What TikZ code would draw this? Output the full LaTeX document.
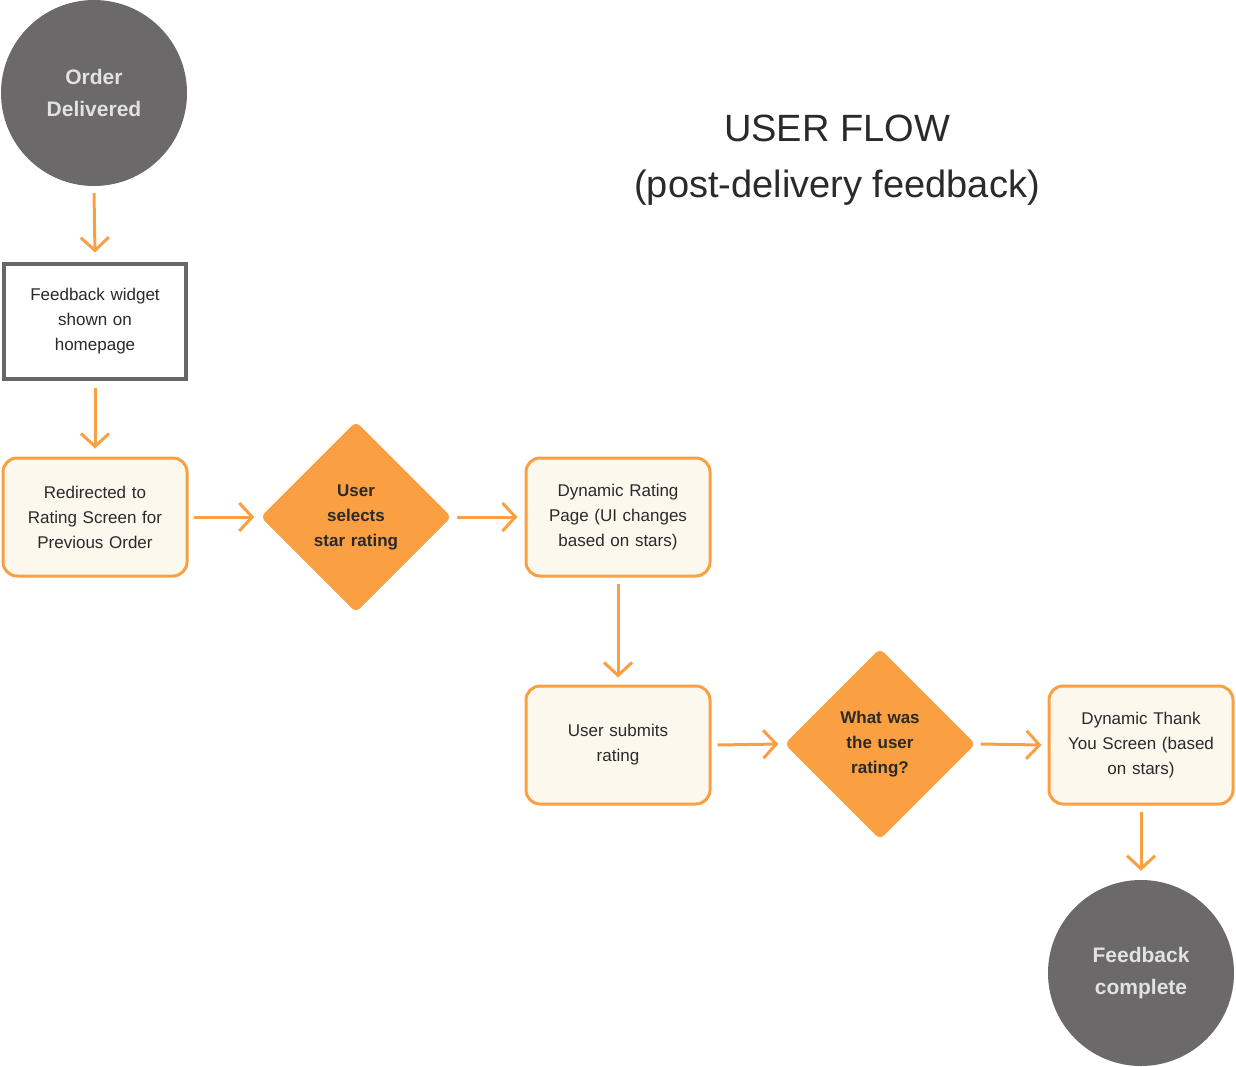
\documentclass[tikz,border=0pt]{standalone}
\usepackage{fontspec}
\setmainfont{Liberation Sans}
\usetikzlibrary{shapes.geometric,arrows.meta}
\definecolor{org}{HTML}{FA9F42}
\definecolor{cgray}{HTML}{6B6969}
\definecolor{ctext}{HTML}{E2E2E2}
\definecolor{boxfill}{HTML}{FDF8EE}
\definecolor{bgray}{HTML}{666666}
\definecolor{dtext}{HTML}{2A2A2A}
\tikzset{
  x=1pt,y=-1pt,
  endcircle/.style={circle,fill=cgray,minimum size=186pt,inner sep=0pt,text=ctext,align=center,font=\fontsize{21}{32}\selectfont\bfseries},
  graybox/.style={draw=bgray,line width=4pt,fill=white,minimum width=182pt,minimum height=115pt,text width=176pt,align=center,text=dtext,font=\fontsize{17}{25}\selectfont},
  obox/.style={draw=org,line width=3pt,fill=boxfill,rounded corners=14pt,minimum width=184pt,minimum height=118pt,text width=176pt,align=center,text=dtext,font=\fontsize{17}{25}\selectfont},
  dec/.style={diamond,fill=org,rounded corners=6pt,minimum width=191pt,minimum height=191pt,inner sep=0pt,text width=110pt,align=center,text=dtext,font=\fontsize{17}{25}\selectfont\bfseries},
  flow/.style={draw=org,line width=3pt,-{Straight Barb[length=13pt,width=28pt,line width=3pt]}},
  titlefont/.style={text=dtext,font=\fontsize{38}{40}\selectfont}
}
\begin{document}
\begin{tikzpicture}
\useasboundingbox (0,0) rectangle (1236,1066);
\node[endcircle] (od) at (94,93) {Order\\Delivered};
\node[graybox] (fw) at (95,321) {Feedback widget\\shown on\\homepage};
\node[obox] (rd) at (95,517) {Redirected to\\Rating Screen for\\Previous Order};
\node[dec] (us) at (356,517) {User\\selects\\star rating};
\node[obox] (dr) at (618,517) {Dynamic Rating\\Page (UI changes\\based on stars)};
\node[obox] (sub) at (618,745) {User submits\\rating};
\node[dec] (wr) at (880,744) {What was\\the user\\rating?};
\node[obox] (ty) at (1141,745) {Dynamic Thank\\You Screen (based\\on stars)};
\node[endcircle] (fc) at (1141,973) {Feedback\\complete};
\node[titlefont] (t1) at (837,128) {USER FLOW};
\node[titlefont] (t2) at (837,188) {(post-delivery feedback)};
\draw[flow] ([yshift=-7pt]od.south) -- ([yshift=9pt]fw.north);
\draw[flow] ([yshift=-7pt]fw.south) -- ([yshift=8pt]rd.north);
\draw[flow] ([xshift=5pt]rd.east) -- ([xshift=-6pt]us.west);
\draw[flow] ([xshift=5pt]us.east) -- ([xshift=-7pt]dr.west);
\draw[flow] ([yshift=-6pt]dr.south) -- ([yshift=7pt]sub.north);
\draw[flow] ([xshift=6pt]sub.east) -- ([xshift=-6pt]wr.west);
\draw[flow] ([xshift=5pt]wr.east) -- ([xshift=-6pt]ty.west);
\draw[flow] ([yshift=-6pt]ty.south) -- ([yshift=9pt]fc.north);
\end{tikzpicture}
\end{document}
